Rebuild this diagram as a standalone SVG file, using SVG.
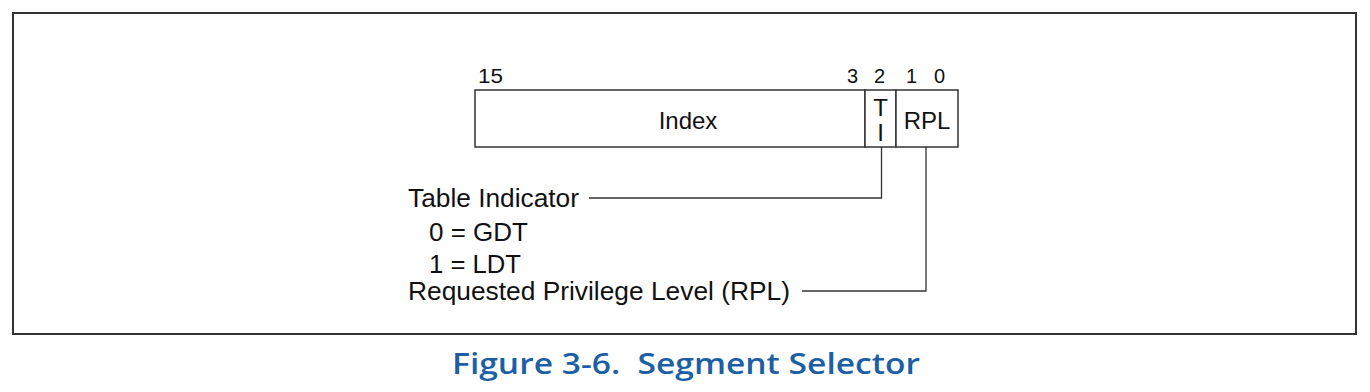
<svg xmlns="http://www.w3.org/2000/svg" width="1370" height="392" viewBox="0 0 1370 392">
<style>
.t{font-family:"Liberation Sans",Arial,sans-serif;fill:#111}
.n{font-size:20px}
.l{font-size:25px}
.f{font-size:24px}
.box{fill:#fff;stroke:#333;stroke-width:1.5}
.c{fill:none;stroke:#333;stroke-width:1.3}
.title{font-family:"Open Sans","Noto Sans",sans-serif;font-weight:600;font-size:29px;fill:#1d5fa5;white-space:pre}
</style>
<rect width="1370" height="392" fill="#fff"/>
<rect x="13" y="13" width="1343" height="321" fill="none" stroke="#333" stroke-width="2"/>
<g id="bits">
<text class="t n" x="478" y="83" textLength="25" lengthAdjust="spacingAndGlyphs">15</text>
<text class="t n" x="847" y="83">3</text>
<text class="t n" x="874" y="83">2</text>
<text class="t n" x="906" y="83">1</text>
<text class="t n" x="934" y="83">0</text>
</g>
<g id="index">
<rect class="box" x="475" y="90" width="390" height="57"/>
<text class="t f" x="688" y="129" text-anchor="middle">Index</text>
</g>
<g id="ti">
<rect class="box" x="865" y="90" width="31" height="57"/>
<text class="t f" x="880.5" y="116" text-anchor="middle">T</text>
<text class="t f" x="880.5" y="141" text-anchor="middle">I</text>
</g>
<g id="rpl">
<rect class="box" x="896" y="90" width="62" height="57"/>
<text class="t f" x="927" y="129" text-anchor="middle">RPL</text>
</g>
<g id="connectors">
<polyline class="c" points="881.5,147 881.5,198 589,198"/>
<polyline class="c" points="926,147 926,291 802,291"/>
</g>
<g id="ti-label">
<text class="t l" x="408" y="207" textLength="171" lengthAdjust="spacingAndGlyphs">Table Indicator</text>
<text class="t l" x="429" y="241" textLength="99" lengthAdjust="spacingAndGlyphs">0 = GDT</text>
<text class="t l" x="429" y="273" textLength="92" lengthAdjust="spacingAndGlyphs">1 = LDT</text>
</g>
<g id="rpl-label">
<text class="t l" x="408" y="300" textLength="382" lengthAdjust="spacingAndGlyphs">Requested Privilege Level (RPL)</text>
</g>
<text class="title" x="452" y="374" textLength="468" lengthAdjust="spacingAndGlyphs">Figure 3-6.  Segment Selector</text>
</svg>
